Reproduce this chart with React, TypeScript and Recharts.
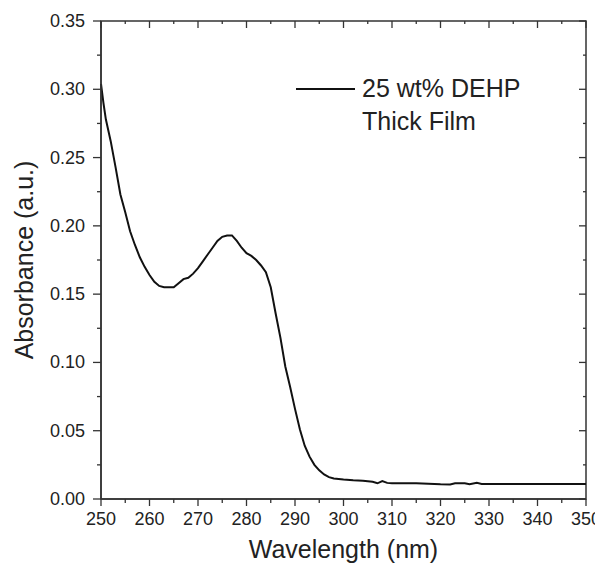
import { LineChart, Line, XAxis, YAxis, Legend, ReferenceArea } from "recharts";

const wavelength = [
  250, 250.5, 251, 252, 253, 254, 255, 256, 257, 258, 259, 260, 261, 262, 263, 264, 265,
  266, 267, 268, 269, 270, 271, 272, 273, 274, 275, 276, 277, 278, 279, 280, 281, 282,
  283, 284, 285, 286, 287, 288, 289, 290, 291, 292, 293, 294, 295, 296, 297, 298, 300,
  302, 304, 306, 307, 308, 309, 310, 315, 320, 322, 323, 325, 326, 327.5, 328.5, 335,
  340, 350,
];
const absorbance = [
  0.304, 0.29, 0.278, 0.262, 0.243, 0.223, 0.21, 0.196, 0.186, 0.177, 0.17, 0.164, 0.159,
  0.156, 0.155, 0.155, 0.155, 0.158, 0.161, 0.162, 0.165, 0.169, 0.174, 0.179, 0.184,
  0.189, 0.192, 0.193, 0.193, 0.189, 0.184, 0.18, 0.178, 0.175, 0.171, 0.166, 0.155,
  0.136, 0.118, 0.097, 0.082, 0.066, 0.051, 0.039, 0.031, 0.025, 0.021, 0.018, 0.016,
  0.015, 0.0142, 0.0137, 0.0134, 0.0126, 0.0115, 0.0132, 0.0118, 0.0116, 0.0115, 0.0108,
  0.0107, 0.0115, 0.0115, 0.0108, 0.0118, 0.011, 0.011, 0.011, 0.011,
];

const xTicks = [
  250, 255, 260, 265, 270, 275, 280, 285, 290, 295, 300, 305, 310, 315, 320, 325, 330,
  335, 340, 345, 350,
];
const yTicks = [
  0, 0.025, 0.05, 0.075, 0.1, 0.125, 0.15, 0.175, 0.2, 0.225, 0.25, 0.275, 0.3, 0.325,
  0.35,
];
const seriesName = ["25 wt% DEHP", "Thick Film"];

const data = wavelength.map((w, i) => ({ w, a: absorbance[i] }));

const font = "'Liberation Sans', Arial, sans-serif";
const axisColor = "#333";

const isMajorX = (v: number) => Math.round(v) % 10 === 0;
const isMajorY = (v: number) => Math.round(v * 1000) % 50 === 0;

const BottomTick = ({ x, y, payload }: any) => {
  const major = isMajorX(payload.value);
  return (
    <g>
      <line x1={x} y1={y} x2={x} y2={y + (major ? 7 : 4)} stroke={axisColor} strokeWidth={1.3} />
      {major && (
        <text x={x} y={y + 26} textAnchor="middle" fontSize={18} fill="#222" fontFamily={font}>
          {payload.value}
        </text>
      )}
    </g>
  );
};

const TopTick = ({ x, y, payload }: any) => {
  const major = isMajorX(payload.value);
  return <line x1={x} y1={y} x2={x} y2={y + (major ? 7 : 3)} stroke={axisColor} strokeWidth={1.3} />;
};

const LeftTick = ({ x, y, payload }: any) => {
  const major = isMajorY(payload.value);
  return (
    <g>
      <line x1={x - (major ? 8 : 4)} y1={y} x2={x} y2={y} stroke={axisColor} strokeWidth={1.3} />
      {major && (
        <text x={x - 16} y={y + 6} textAnchor="end" fontSize={18} fill="#222" fontFamily={font}>
          {payload.value.toFixed(2)}
        </text>
      )}
    </g>
  );
};

const RightTick = ({ x, y, payload }: any) => {
  const major = isMajorY(payload.value);
  return <line x1={x - (major ? 7 : 3)} y1={y} x2={x} y2={y} stroke={axisColor} strokeWidth={1.3} />;
};

const YTitle = ({ viewBox }: any) => {
  const cx = viewBox.x + 25;
  const cy = viewBox.y + viewBox.height / 2;
  return (
    <text
      x={cx}
      y={cy}
      transform={`rotate(-90 ${cx} ${cy})`}
      textAnchor="middle"
      fontSize={25}
      fill="#222"
      fontFamily={font}
    >
      Absorbance (a.u.)
    </text>
  );
};

const XTitle = ({ viewBox }: any) => (
  <text
    x={viewBox.x + viewBox.width / 2}
    y={viewBox.y + 59}
    textAnchor="middle"
    fontSize={25}
    fill="#222"
    fontFamily={font}
  >
    Wavelength (nm)
  </text>
);

const LegendBox = () => (
  <div style={{ display: "flex", alignItems: "flex-start", fontFamily: font }}>
    <div style={{ width: 59, borderTop: "2px solid #111", marginTop: 16, marginRight: 7 }} />
    <div style={{ fontSize: 25, lineHeight: "33px", color: "#222" }}>
      {seriesName.map((s) => (
        <div key={s}>{s}</div>
      ))}
    </div>
  </div>
);

export default function App() {
  return (
    <div style={{ width: 595, height: 557, background: "#fff", fontFamily: font }}>
      <LineChart
        width={595}
        height={557}
        data={data}
        margin={{ top: 13, right: 17, left: 0, bottom: 0 }}
      >
        <XAxis
          dataKey="w"
          type="number"
          domain={[250, 350]}
          ticks={xTicks}
          interval={0}
          height={66}
          tickSize={0}
          tickMargin={0}
          tick={<BottomTick />}
          stroke={axisColor}
          strokeWidth={1.5}
          label={<XTitle />}
        />
        <XAxis
          xAxisId="top"
          dataKey="w"
          type="number"
          orientation="top"
          mirror
          domain={[250, 350]}
          ticks={xTicks}
          interval={0}
          height={1}
          tickSize={0}
          tickMargin={0}
          tick={<TopTick />}
          axisLine={false}
        />
        <YAxis
          type="number"
          domain={[0, 0.35]}
          ticks={yTicks}
          interval={0}
          width={93}
          tickSize={0}
          tickMargin={0}
          tick={<LeftTick />}
          stroke={axisColor}
          strokeWidth={1.5}
          label={<YTitle />}
        />
        <YAxis
          yAxisId="right"
          type="number"
          orientation="right"
          mirror
          domain={[0, 0.35]}
          ticks={yTicks}
          interval={0}
          width={1}
          tickSize={0}
          tickMargin={0}
          tick={<RightTick />}
          axisLine={false}
        />
        <ReferenceArea
          x1={250}
          x2={350}
          y1={0}
          y2={0.35}
          fill="none"
          stroke={axisColor}
          strokeWidth={1.5}
          ifOverflow="visible"
        />
        <Legend
          layout="horizontal"
          verticalAlign="middle"
          align="center"
          content={<LegendBox />}
          wrapperStyle={{ left: 288, top: 64, width: "auto" }}
        />
        <Line
          xAxisId="top"
          yAxisId="right"
          dataKey="a"
          legendType="none"
          stroke="none"
          dot={false}
          activeDot={false}
          isAnimationActive={false}
        />
        <Line
          dataKey="a"
          name={seriesName.join(" ")}
          type="linear"
          stroke="#111"
          strokeWidth={2}
          dot={false}
          isAnimationActive={false}
        />
      </LineChart>
    </div>
  );
}
